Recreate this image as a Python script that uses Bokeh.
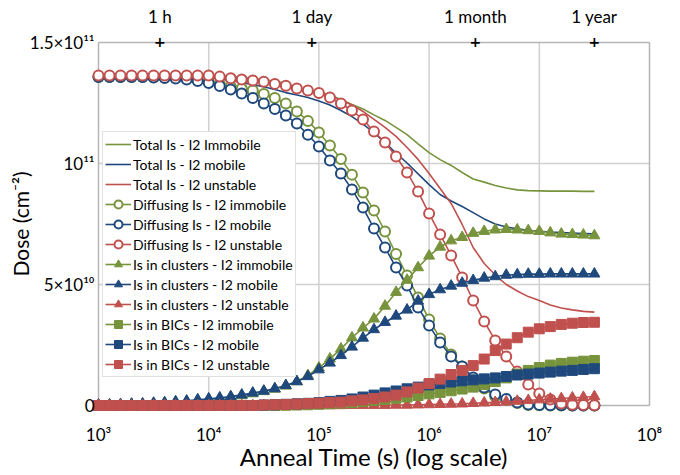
import math
from bokeh.plotting import figure
from bokeh.models import Range1d, FixedTicker, LogAxis, Legend, LegendItem
from bokeh.embed import file_html
from bokeh.resources import INLINE

# ---------------- data ----------------
# anneal time exponents (log10 of seconds)
time_exp = [3.0, 3.1, 3.2, 3.3, 3.4, 3.5, 3.6, 3.7, 3.8, 3.9,
            4.0, 4.1, 4.2, 4.3, 4.4, 4.5, 4.6, 4.7, 4.8, 4.9,
            5.0, 5.1, 5.2, 5.3, 5.4, 5.5, 5.6, 5.7, 5.8, 5.9,
            6.0, 6.1, 6.2, 6.3, 6.4, 6.5, 6.6, 6.7, 6.8, 6.9,
            7.0, 7.1, 7.2, 7.3, 7.4, 7.5]
anneal_time = [10 ** e for e in time_exp]

# doses in units of 1e10 cm^-2
tot_immobile = [13.64, 13.64, 13.64, 13.64, 13.64, 13.64, 13.64, 13.64, 13.64, 13.64,
                13.64, 13.62, 13.60, 13.56, 13.52, 13.46, 13.40, 13.30, 13.15, 13.02,
                12.93, 12.85, 12.63, 12.44, 12.25, 12.01, 11.78, 11.49, 11.19, 10.81,
                10.45, 10.16, 9.92, 9.63, 9.36, 9.23, 9.09, 8.99, 8.91, 8.88,
                8.87, 8.86, 8.86, 8.86, 8.85, 8.85]
tot_mobile = [13.60, 13.60, 13.60, 13.60, 13.60, 13.60, 13.60, 13.60, 13.60, 13.59,
              13.55, 13.49, 13.43, 13.35, 13.26, 13.17, 13.06, 12.93, 12.83, 12.73,
              12.58, 12.42, 12.19, 11.94, 11.63, 11.28, 10.85, 10.43, 10.02, 9.57,
              9.13, 8.72, 8.45, 8.22, 7.97, 7.71, 7.50, 7.38, 7.30, 7.24,
              7.20, 7.17, 7.15, 7.13, 7.11, 7.09]
tot_unstable = [13.64, 13.64, 13.64, 13.64, 13.64, 13.64, 13.64, 13.64, 13.64, 13.64,
                13.64, 13.59, 13.52, 13.47, 13.43, 13.38, 13.29, 13.21, 13.12, 13.04,
                12.93, 12.79, 12.62, 12.42, 12.15, 11.82, 11.49, 11.12, 10.66, 10.17,
                9.59, 8.97, 8.35, 7.48, 6.53, 5.87, 5.39, 5.00, 4.73, 4.50,
                4.34, 4.15, 4.03, 3.95, 3.89, 3.86]

diff_immobile = [13.57, 13.57, 13.57, 13.57, 13.57, 13.56, 13.55, 13.53, 13.51, 13.47,
                 13.37, 13.28, 13.18, 13.10, 13.02, 12.87, 12.71, 12.48, 12.15, 11.76,
                 11.28, 10.74, 10.19, 9.54, 8.80, 8.06, 7.19, 6.26, 5.37, 4.46,
                 3.55, 2.77, 2.11, 1.61, 1.12, 0.70, 0.37, 0.23, 0.10, 0.02,
                 0.01, 0.0, 0.0, 0.0, 0.0, 0.0]
diff_mobile = [13.57, 13.57, 13.57, 13.57, 13.57, 13.55, 13.53, 13.51, 13.47, 13.41,
               13.33, 13.20, 13.06, 12.89, 12.71, 12.48, 12.25, 11.98, 11.65, 11.19,
               10.70, 10.12, 9.59, 8.93, 8.18, 7.31, 6.53, 5.70, 4.96, 4.05,
               3.31, 2.60, 2.02, 1.61, 1.16, 0.74, 0.45, 0.27, 0.12, 0.04,
               0.02, 0.01, 0.01, 0.0, 0.0, 0.0]
diff_unstable = [13.64, 13.64, 13.64, 13.64, 13.64, 13.64, 13.64, 13.64, 13.64, 13.64,
                 13.64, 13.59, 13.52, 13.47, 13.43, 13.38, 13.29, 13.21, 13.10, 13.02,
                 12.91, 12.73, 12.48, 12.19, 11.82, 11.32, 10.87, 10.29, 9.63, 8.84,
                 7.93, 7.07, 6.20, 5.29, 4.34, 3.47, 2.69, 2.02, 1.40, 0.87,
                 0.50, 0.25, 0.08, 0.03, 0.02, 0.01]

clust_immobile = [0.02, 0.02, 0.03, 0.05, 0.06, 0.08, 0.10, 0.13, 0.16, 0.21,
                  0.25, 0.29, 0.34, 0.41, 0.49, 0.58, 0.68, 0.81, 0.99, 1.24,
                  1.56, 1.93, 2.34, 2.80, 3.21, 3.58, 4.11, 4.68, 5.18, 5.70,
                  6.18, 6.55, 6.81, 6.95, 7.12, 7.20, 7.26, 7.28, 7.26, 7.23,
                  7.20, 7.14, 7.09, 7.07, 7.05, 7.02]
clust_mobile = [0.02, 0.03, 0.04, 0.06, 0.07, 0.10, 0.12, 0.16, 0.19, 0.24,
                0.28, 0.32, 0.37, 0.44, 0.52, 0.60, 0.70, 0.83, 0.99, 1.20,
                1.48, 1.76, 2.07, 2.42, 2.79, 3.14, 3.44, 3.70, 3.95, 4.32,
                4.59, 4.79, 4.94, 5.06, 5.17, 5.27, 5.33, 5.39, 5.41, 5.43,
                5.43, 5.44, 5.44, 5.44, 5.44, 5.44]
clust_unstable = [0.0, 0.0, 0.0, 0.0, 0.0, 0.0, 0.0, 0.0, 0.0, 0.0,
                  0.0, 0.0, 0.0, 0.0, 0.0, 0.0, 0.0, 0.0, 0.0, 0.0,
                  0.0, 0.0, 0.0, 0.01, 0.01, 0.01, 0.01, 0.02, 0.02, 0.03,
                  0.04, 0.05, 0.06, 0.07, 0.09, 0.11, 0.13, 0.15, 0.18, 0.21,
                  0.24, 0.27, 0.29, 0.32, 0.34, 0.37]

bic_immobile = [0.0, 0.0, 0.0, 0.0, 0.0, 0.0, 0.0, 0.0, 0.0, 0.0,
                0.0, 0.0, 0.0, 0.0, 0.0, 0.0, 0.0, 0.01, 0.02, 0.03,
                0.05, 0.07, 0.10, 0.12, 0.17, 0.21, 0.25, 0.30, 0.35, 0.41,
                0.48, 0.54, 0.61, 0.68, 0.76, 0.87, 0.99, 1.14, 1.30, 1.45,
                1.57, 1.67, 1.74, 1.79, 1.83, 1.86]
bic_mobile = [0.0, 0.0, 0.0, 0.0, 0.0, 0.0, 0.0, 0.0, 0.0, 0.0,
              0.0, 0.0, 0.0, 0.0, 0.0, 0.02, 0.03, 0.05, 0.07, 0.09,
              0.12, 0.17, 0.21, 0.27, 0.35, 0.43, 0.52, 0.60, 0.69, 0.76,
              0.85, 0.91, 0.97, 1.02, 1.06, 1.10, 1.14, 1.20, 1.26, 1.30,
              1.34, 1.38, 1.42, 1.45, 1.49, 1.52]
bic_unstable = [0.0, 0.0, 0.0, 0.0, 0.0, 0.0, 0.0, 0.0, 0.0, 0.0,
                0.0, 0.0, 0.0, 0.0, 0.0, 0.02, 0.03, 0.04, 0.06, 0.08,
                0.10, 0.12, 0.14, 0.19, 0.23, 0.29, 0.35, 0.43, 0.56, 0.72,
                0.91, 1.09, 1.28, 1.45, 1.65, 1.92, 2.27, 2.54, 2.80, 3.03,
                3.17, 3.26, 3.35, 3.40, 3.43, 3.44]

x_ticks = [1e3, 1e4, 1e5, 1e6, 1e7, 1e8]
x_tick_labels = ["10³", "10⁴", "10⁵", "10⁶", "10⁷", "10⁸"]
y_ticks = [0, 5, 10, 15]
y_tick_labels = ["0", "5×10¹⁰", "10¹¹", "1.5×10¹¹"]
top_ticks = [3600, 86400, 2629800, 31557600]
top_tick_labels = ["1 h", "1 day", "1 month", "1 year"]

GREEN = "#77933C"
BLUE = "#1F497D"
RED = "#C0504D"
FONT = "Lato"
AX_COL = "#B5B5B5"
GRID_COL = "#D0D0D0"

series = [
    ("Total Is - I2 Immobile", tot_immobile, GREEN, None),
    ("Total Is - I2 mobile", tot_mobile, BLUE, None),
    ("Total Is - I2 unstable", tot_unstable, RED, None),
    ("Diffusing Is - I2 immobile", diff_immobile, GREEN, "circle"),
    ("Diffusing Is - I2 mobile", diff_mobile, BLUE, "circle"),
    ("Diffusing Is - I2 unstable", diff_unstable, RED, "circle"),
    ("Is in clusters - I2 immobile", clust_immobile, GREEN, "triangle"),
    ("Is in clusters - I2 mobile", clust_mobile, BLUE, "triangle"),
    ("Is in clusters - I2 unstable", clust_unstable, RED, "triangle"),
    ("Is in BICs - I2 immobile", bic_immobile, GREEN, "square"),
    ("Is in BICs - I2 mobile", bic_mobile, BLUE, "square"),
    ("Is in BICs - I2 unstable", bic_unstable, RED, "square"),
]

# ---------------- layout (screen pixels inside the figure) ----------------
W, H = 680, 475
FR_L, FR_R, FR_T, FR_B = 98, 649, 42, 405   # where the plotting box sits
lx0, lx1 = math.log10(x_ticks[0]), math.log10(x_ticks[-1])
dec_px = (FR_R - FR_L) / (lx1 - lx0)
x_lo = 10 ** (lx0 - FR_L / dec_px)
x_hi = 10 ** (lx1 + (W - FR_R) / dec_px)
unit_px = (FR_B - FR_T) / (y_ticks[-1] - y_ticks[0])
y_lo = y_ticks[0] - (H - FR_B) / unit_px
y_hi = y_ticks[-1] + FR_T / unit_px

p = figure(width=W, height=H, x_axis_type="log",
           x_range=Range1d(x_lo, x_hi), y_range=Range1d(y_lo, y_hi),
           output_backend="svg", toolbar_location=None, min_border=0)
p.background_fill_color = "white"
p.border_fill_color = "white"
p.outline_line_color = None
p.xgrid.visible = False
p.ygrid.visible = False

# ---------------- axes (pinned to the plotting box) ----------------
xa = p.xaxis[0]
xa.fixed_location = y_ticks[0]
xa.bounds = (x_ticks[0], x_ticks[-1])
xa.ticker = FixedTicker(ticks=x_ticks)
xa.major_label_overrides = dict(zip(x_ticks, x_tick_labels))
xa.axis_label = "Anneal Time (s) (log scale)"
ya = p.yaxis[0]
ya.fixed_location = x_ticks[0]
ya.bounds = (y_ticks[0], y_ticks[-1])
ya.ticker = FixedTicker(ticks=y_ticks)
ya.major_label_overrides = dict(zip(y_ticks, y_tick_labels))
ya.axis_label = "Dose (cm⁻²)"

for ax in (xa, ya):
    ax.axis_line_color = None
    ax.major_tick_line_color = None
    ax.minor_tick_line_color = None
    ax.major_tick_out = 0
    ax.major_tick_in = 0
    ax.minor_tick_out = 0
    ax.minor_tick_in = 0
    ax.major_label_text_font = FONT
    ax.major_label_text_font_size = "17px"
    ax.major_label_text_color = "#000000"
    ax.axis_label_text_font = FONT
    ax.axis_label_text_font_style = "normal"
    ax.axis_label_text_color = "#000000"

xa.major_label_standoff = 18
xa.axis_label_standoff = -6
xa.axis_label_text_font_size = "24px"
ya.major_label_standoff = 4
ya.axis_label_standoff = -6
ya.axis_label_text_font_size = "21px"

# top secondary axis: "+" marks on the box edge, and the time labels
top_marks = LogAxis(ticker=FixedTicker(ticks=top_ticks),
                    fixed_location=y_ticks[-1],
                    major_label_overrides={t: "+" for t in top_ticks},
                    axis_line_color=None, major_tick_line_color=None,
                    minor_tick_line_color=None, major_tick_out=0, major_tick_in=0,
                    minor_tick_out=0, minor_tick_in=0,
                    major_label_standoff=-4,
                    major_label_text_font="DejaVu Sans",
                    major_label_text_font_style="bold",
                    major_label_text_font_size="14px",
                    major_label_text_color="#000000")
p.add_layout(top_marks, "above")
top_axis = LogAxis(ticker=FixedTicker(ticks=top_ticks),
                   fixed_location=y_ticks[-1],
                   major_label_overrides=dict(zip(top_ticks, top_tick_labels)),
                   axis_line_color=None, major_tick_line_color=None,
                   minor_tick_line_color=None, major_tick_out=0, major_tick_in=0,
                   minor_tick_out=0, minor_tick_in=0,
                   major_label_standoff=16,
                   major_label_text_font=FONT,
                   major_label_text_font_size="17px",
                   major_label_text_color="#000000")
p.add_layout(top_axis, "above")

# ---------------- gridlines and box edges ----------------
inner_x = x_ticks[1:-1]
inner_y = y_ticks[1:-1]
p.segment(x0=inner_x, y0=[y_ticks[0]] * len(inner_x),
          x1=inner_x, y1=[y_ticks[-1]] * len(inner_x),
          line_color=GRID_COL, line_width=1.5)
p.segment(x0=[x_ticks[0]] * len(inner_y), y0=inner_y,
          x1=[x_ticks[-1]] * len(inner_y), y1=inner_y,
          line_color=GRID_COL, line_width=1.5)
p.segment(x0=[x_ticks[0], x_ticks[-1], x_ticks[0], x_ticks[0]],
          y0=[y_ticks[-1], y_ticks[0], y_ticks[0], y_ticks[0]],
          x1=[x_ticks[-1], x_ticks[-1], x_ticks[-1], x_ticks[0]],
          y1=[y_ticks[-1], y_ticks[-1], y_ticks[0], y_ticks[-1]],
          line_color=AX_COL, line_width=1.5)

# ---------------- series ----------------
items = []
for label, vals, col, marker in series:
    rs = [p.line(anneal_time, vals, line_color=col, line_width=1.6)]
    if marker == "circle":
        rs.append(p.scatter(anneal_time, vals, marker="circle", size=10,
                            line_color=col, line_width=2, fill_color="white"))
    elif marker == "triangle":
        rs.append(p.scatter(anneal_time, vals, marker="triangle", size=11,
                            line_color=col, line_width=1, fill_color=col))
    elif marker == "square":
        rs.append(p.scatter(anneal_time, vals, marker="square", size=10,
                            line_color=col, line_width=1, fill_color=col))
    items.append(LegendItem(label=label, renderers=rs))

legend = Legend(items=items, location=(FR_L + 4, H - FR_B + 28), margin=0, padding=2,
                spacing=0, label_height=20, glyph_height=20, glyph_width=26,
                label_standoff=2, label_text_font=FONT,
                label_text_font_size="14px", label_text_color="#000000",
                border_line_color="#BFBFBF", border_line_width=1,
                background_fill_color="white", background_fill_alpha=1.0)
p.add_layout(legend)

open("out.html", "w").write(file_html(p, INLINE))
